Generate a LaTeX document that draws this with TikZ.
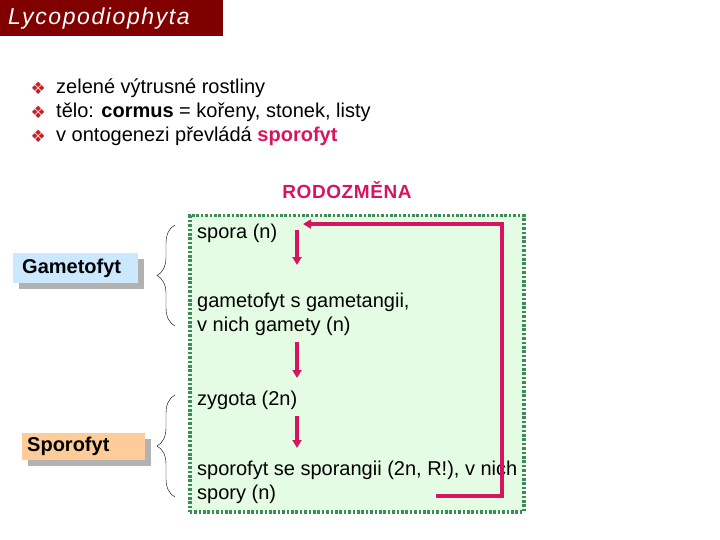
\documentclass[tikz,border=0pt]{standalone}
\usepackage{fontspec}
\setmainfont{Liberation Sans}
\newfontfamily\dingfont{DejaVu Sans}
\usetikzlibrary{arrows.meta,positioning,decorations.pathreplacing,shadows}
\definecolor{titlered}{RGB}{128,0,0}
\definecolor{dotred}{RGB}{200,30,40}
\definecolor{rosered}{RGB}{215,20,95}
\definecolor{cyclegreen}{RGB}{60,140,85}
\definecolor{cyclefill}{RGB}{228,252,228}
\definecolor{gameblue}{RGB}{204,232,255}
\definecolor{sporeorange}{RGB}{255,204,153}
\definecolor{shadowgray}{RGB}{178,178,178}

\begin{document}
\begin{tikzpicture}[x=1pt,y=-1pt,
  body/.style={anchor=west, inner sep=0pt, align=left, font=\fontsize{20}{24}\selectfont},
  dot/.style={text=dotred, inner sep=0pt, font=\dingfont\fontsize{17}{17}\selectfont},
  phase/.style={anchor=north west, inner ysep=0pt, align=left,
    font=\fontsize{20}{24}\selectfont\bfseries,
    drop shadow={shadow xshift=6pt, shadow yshift=-6pt, fill=shadowgray, opacity=1}},
  flow/.style={rosered, line width=3.8pt, -{Triangle[width=9pt,length=8pt]}},
  brace/.style={decorate, decoration={brace, amplitude=18pt}, thin}]
\useasboundingbox (0,0) rectangle (720,540);
% Title bar
\node[fill=titlered, text=white, anchor=north west, inner xsep=8pt, text width=207pt,
  minimum height=36pt, font=\fontsize{23}{26}\selectfont\itshape\addfontfeatures{LetterSpace=7}]
  (title) at (0,0) {Lycopodiophyta};
% Bullet list
\node[body] (l1) at (56,88) {zelené výtrusné rostliny};
\node[body] (l2) at (56,112) {tělo: \textbf{cormus} = kořeny, stonek, listy};
\node[body] (l3) at (56,136) {v ontogenezi převládá \textcolor{rosered}{\textbf{sporofyt}}};
\node[dot, left=10pt of l1] (d1) {❖};
\node[dot, left=10pt of l2] (d2) {❖};
\node[dot, left=10pt of l3] (d3) {❖};
% Phases with braces
\node[phase, fill=gameblue, inner xsep=9pt, text width=107pt, minimum height=30pt]
  (gametofyt) at (13,253) {Gametofyt};
\node[phase, fill=sporeorange, inner xsep=5pt, text width=113pt, minimum height=27pt]
  (sporofyt) at (22,433) {Sporofyt};
\coordinate (gb1) at (175,326);
\coordinate (gb2) at (175,225);
\coordinate (sb1) at (175,497);
\coordinate (sb2) at (175,395);
\draw[brace] (gb1) -- (gb2);
\draw[brace] (sb1) -- (sb2);
% Life cycle box
\node[text=rosered, font=\fontsize{19}{22}\selectfont\bfseries\addfontfeatures{LetterSpace=3}]
  (cyclehead) at (347,190) {RODOZMĚNA};
\node[draw=cyclegreen, fill=cyclefill, line width=3.5pt, dash pattern=on 2.6pt off 1.8pt,
  anchor=north west, inner sep=0pt, minimum width=334pt, minimum height=296pt]
  (cycle) at (188,214) {};
\node[body] (spora) at (197,233) {spora (n)};
\node[body] (gameto) at (197,314) {gametofyt s gametangii,\\v nich gamety (n)};
\node[body] (zygota) at (197,400) {zygota (2n)};
\node[body] (sporo) at (197,482) {sporofyt se sporangii (2n, R!), v nich\\spory (n)};
% Arrows
\coordinate (s1top) at (297,230);
\coordinate (s1bot) at (297,265);
\coordinate (s2top) at (297,342);
\coordinate (s2bot) at (297,378);
\coordinate (s3top) at (297,416);
\coordinate (s3bot) at (297,448);
\coordinate (backcorner) at (502,496);
\coordinate (backturn) at (502,224);
\coordinate (backend) at (303,224);
\coordinate (backstart) at (438,496);
\draw[flow] (s1top) -- (s1bot);
\draw[flow] (s2top) -- (s2bot);
\draw[flow] (s3top) -- (s3bot);
\draw[flow] (backcorner) -- (backturn) -- (backend);
\draw[rosered, line width=3.8pt, line cap=rect] (backcorner) -- (backstart);
\end{tikzpicture}
\end{document}
